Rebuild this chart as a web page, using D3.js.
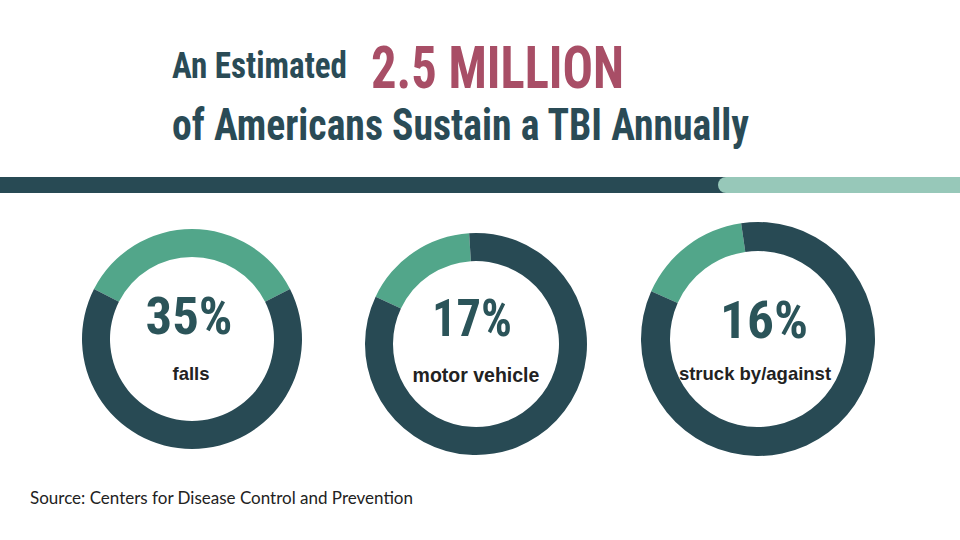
<!DOCTYPE html>
<html>
<head>
<meta charset="utf-8">
<script src="https://cdn.jsdelivr.net/npm/d3@7"></script>
<style>
  html, body { margin: 0; padding: 0; background: #fff; }
  svg { display: block; }
</style>
</head>
<body>
<div id="chart"></div>
<script>
// ---- data ----
const categories = ["falls", "motor vehicle", "struck by/against"];
const percents = [35, 17, 16];
const percentLabels = ["35%", "17%", "16%"];
const titleLine1 = "An Estimated";
const titleHighlight = "2.5 MILLION";
const titleLine2 = "of Americans Sustain a TBI Annually";
const sourceText = "Source: Centers for Disease Control and Prevention";

// ---- layout (not data) ----
const W = 960, H = 540;
const dark = "#284a54", green = "#52a68a", light = "#97c8b9", rose = "#a84e66", titleCol = "#2a4b56";
const donutLayout = [
  { cx: 192, cy: 339, r: 110, th: 28, centered: true, rot: 0, px: 189, py: 334, lx: 191, ly: 380, pw: 87 },
  { cx: 476, cy: 344, r: 111, th: 28, centered: false, rot: -1.13, px: 472, py: 336, lx: 476, ly: 382, pw: 80 },
  { cx: 758, cy: 339, r: 117, th: 29, centered: false, rot: -1.15, px: 764, py: 338, lx: 755, ly: 380, pw: 88 }
];
const condensed = "'Roboto Condensed','Liberation Sans Narrow','DejaVu Sans Condensed',sans-serif";

const svg = d3.select("#chart").append("svg").attr("width", W).attr("height", H);

// Title
svg.append("text").text(titleLine1)
  .attr("x", 172).attr("y", 78)
  .attr("font-family", condensed).attr("font-weight", 700).attr("font-size", 36)
  .attr("fill", titleCol).attr("textLength", 175).attr("lengthAdjust", "spacingAndGlyphs");
svg.append("text").text(titleHighlight)
  .attr("x", 371).attr("y", 88)
  .attr("font-family", condensed).attr("font-weight", 700).attr("font-size", 59)
  .attr("fill", rose).attr("textLength", 253).attr("lengthAdjust", "spacingAndGlyphs");
svg.append("text").text(titleLine2)
  .attr("x", 172).attr("y", 140)
  .attr("font-family", condensed).attr("font-weight", 700).attr("font-size", 44)
  .attr("fill", titleCol).attr("textLength", 577).attr("lengthAdjust", "spacingAndGlyphs");

// Divider bar
svg.append("rect").attr("x", 0).attr("y", 177).attr("width", 730).attr("height", 16).attr("fill", dark);
svg.append("rect").attr("x", 718).attr("y", 177).attr("width", 260).attr("height", 16).attr("rx", 8).attr("fill", light);

// Donuts
const pie = d3.pie().sort(null).value(d => d);
categories.forEach((cat, i) => {
  const L = donutLayout[i];
  const p = percents[i];
  const s = L.centered ? -(p / 100) * Math.PI : L.rot;
  const arcs = pie.startAngle(s).endAngle(s + 2 * Math.PI)([p, 100 - p]);
  const arc = d3.arc().innerRadius(L.r - L.th).outerRadius(L.r);
  const g = svg.append("g").attr("transform", `translate(${L.cx},${L.cy})`);
  g.selectAll("path").data(arcs).join("path")
    .attr("d", arc)
    .attr("fill", (d, j) => j === 0 ? green : dark);
  svg.append("text").text(percentLabels[i])
    .attr("x", L.px).attr("y", L.py)
    .attr("text-anchor", "middle")
    .attr("font-family", condensed).attr("font-weight", 700).attr("font-size", 52)
    .attr("fill", "#2b5459")
    .attr("textLength", L.pw).attr("lengthAdjust", "spacingAndGlyphs");
  svg.append("text").text(cat)
    .attr("x", L.lx).attr("y", L.ly)
    .attr("text-anchor", "middle")
    .attr("font-family", "'Liberation Sans', Arial, sans-serif").attr("font-weight", 700)
    .attr("font-size", i === 1 ? 19.5 : 18.5)
    .attr("fill", "#222");
});

// Source
svg.append("text").text(sourceText)
  .attr("x", 30).attr("y", 504)
  .attr("font-family", "Lato, sans-serif").attr("font-size", 17)
  .attr("fill", "#222");
</script>
</body>
</html>
